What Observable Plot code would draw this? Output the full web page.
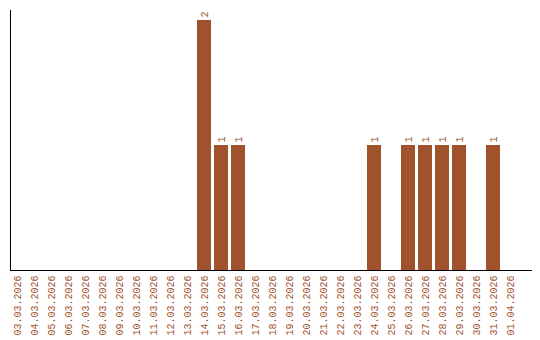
<!DOCTYPE html>
<html>
<head>
<meta charset="utf-8">
<script src="https://cdn.jsdelivr.net/npm/d3@7"></script>
<script src="https://cdn.jsdelivr.net/npm/@observablehq/plot@0.6"></script>
<style>
  html, body { margin: 0; padding: 0; background: #fff; }
</style>
</head>
<body>
<div id="chart"></div>
<script>
const dates = ["03.03.2026","04.03.2026","05.03.2026","06.03.2026","07.03.2026","08.03.2026","09.03.2026","10.03.2026","11.03.2026","12.03.2026","13.03.2026","14.03.2026","15.03.2026","16.03.2026","17.03.2026","18.03.2026","19.03.2026","20.03.2026","21.03.2026","22.03.2026","23.03.2026","24.03.2026","25.03.2026","26.03.2026","27.03.2026","28.03.2026","29.03.2026","30.03.2026","31.03.2026","01.04.2026"];
const counts = [0,0,0,0,0,0,0,0,0,0,0,2,1,1,0,0,0,0,0,0,0,1,0,1,1,1,1,0,1,0];

const data = dates.map((d, i) => ({date: d, count: counts[i]}));
const color = "#a0522d";

const chart = Plot.plot({
  width: 540,
  height: 340,
  marginTop: 10,
  marginLeft: 10,
  marginRight: 9,
  marginBottom: 70,
  style: {fontFamily: "'Liberation Mono', monospace", fontSize: "10px", background: "#fff"},
  x: {domain: dates, paddingInner: 0.1765, paddingOuter: 0.41, align: 0, label: null},
  y: {domain: [0, 2.08], axis: null},
  marks: [
    Plot.barY(data, {x: "date", y: "count", fill: color}),
    Plot.text(data.filter(d => d.count > 0), {x: "date", y: "count", text: d => String(d.count), rotate: -90, textAnchor: "start", dy: -3, fill: color, fontSize: 10}),
    Plot.axisX({tickRotate: -90, tickSize: 0, tickPadding: 5, fill: color, fontSize: 10, label: null}),
    Plot.frame({anchor: "left", stroke: "#000"}),
    Plot.frame({anchor: "bottom", stroke: "#000"})
  ]
});
document.getElementById("chart").appendChild(chart);
</script>
</body>
</html>
